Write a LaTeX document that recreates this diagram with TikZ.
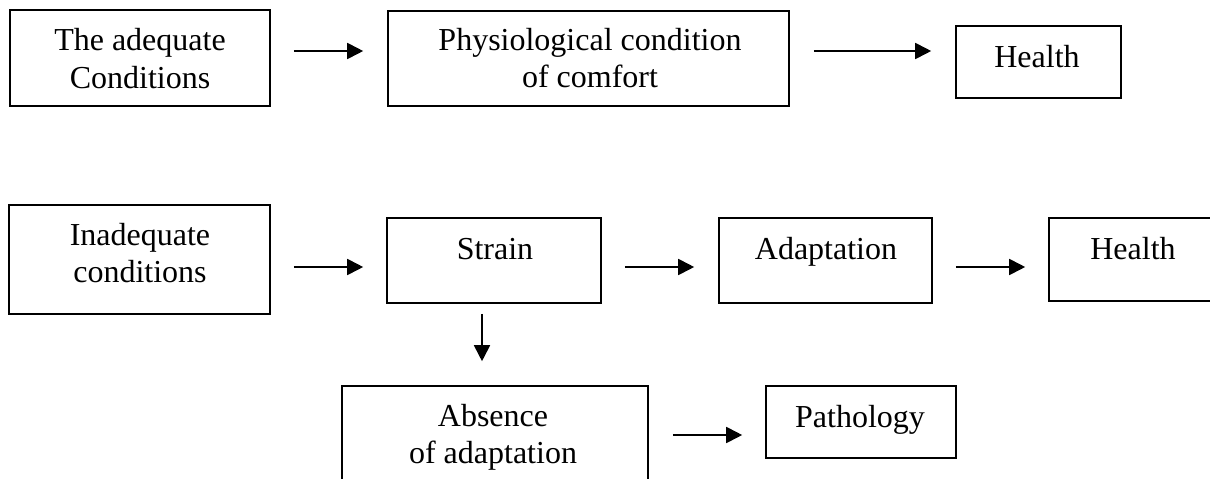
\documentclass[tikz,border=0pt]{standalone}
\usepackage{fontspec}
\setmainfont{Liberation Serif}
\usetikzlibrary{arrows.meta}
\begin{document}
\begin{tikzpicture}[x=1pt,y=-1pt,
  box/.style={draw,line width=1.6pt,inner sep=0pt},
  lbl/.style={anchor=base,font=\fontsize{32}{37}\selectfont,inner sep=0pt},
  arr/.style={line width=1.8pt,-{Triangle[length=16pt,width=16pt]}}]
\useasboundingbox (0,0) rectangle (1210,479);
\clip (0,0) rectangle (1210,479);
% boxes
\node[box,minimum width=260pt,minimum height=96pt] (a) at (140,58) {};
\node[box,minimum width=401pt,minimum height=95pt] (b) at (588.5,58.5) {};
\node[box,minimum width=165pt,minimum height=72pt] (c) at (1038.5,62) {};
\node[box,minimum width=261pt,minimum height=109pt] (d) at (139.5,259.5) {};
\node[box,minimum width=214pt,minimum height=85pt] (e) at (494,260.5) {};
\node[box,minimum width=213pt,minimum height=85pt] (f) at (825.5,260.5) {};
\node[box,minimum width=168pt,minimum height=83pt] (g) at (1133,259.5) {};
\node[box,minimum width=306pt,minimum height=114pt] (h) at (495,443) {};
\node[box,minimum width=190pt,minimum height=72pt] (i) at (861,422) {};
% labels (baselines)
\node[lbl] (ta1) at (140,50) {The adequate};
\node[lbl] (ta2) at (140,88) {Conditions};
\node[lbl] (tb1) at (590,50) {Physiological condition};
\node[lbl] (tb2) at (590,87) {of comfort};
\node[lbl] (tc) at (1037,67) {Health};
\node[lbl] (td1) at (140,245) {Inadequate};
\node[lbl] (td2) at (140,282) {conditions};
\node[lbl] (te) at (495,259) {Strain};
\node[lbl] (tf) at (826,259) {Adaptation};
\node[lbl] (tg) at (1133,259) {Health};
\node[lbl] (th1) at (493,426) {Absence};
\node[lbl] (th2) at (493,463) {of adaptation};
\node[lbl] (ti) at (860,427) {Pathology};
% arrows
\draw[arr,shorten <=23pt,shorten >=24pt] ([yshift=7pt]a.east) -- ([yshift=7.5pt]b.west);
\draw[arr,shorten <=24pt,shorten >=24pt] ([yshift=7.5pt]b.east) -- ([yshift=11pt]c.west);
\draw[arr,shorten <=23pt,shorten >=23pt] ([yshift=-7.5pt]d.east) -- ([yshift=-6.5pt]e.west);
\draw[arr,shorten <=23pt,shorten >=24pt] ([yshift=-6.5pt]e.east) -- ([yshift=-6.5pt]f.west);
\draw[arr,shorten <=23pt,shorten >=23pt] ([yshift=-6.5pt]f.east) -- ([yshift=-7.5pt]g.west);
\draw[arr,shorten <=10pt,shorten >=24pt] ([xshift=-12pt]e.south) -- ([xshift=-13pt]h.north);
\draw[arr,shorten <=24pt,shorten >=23pt] ([yshift=8pt]h.east) -- ([yshift=-13pt]i.west);
\end{tikzpicture}
\end{document}
